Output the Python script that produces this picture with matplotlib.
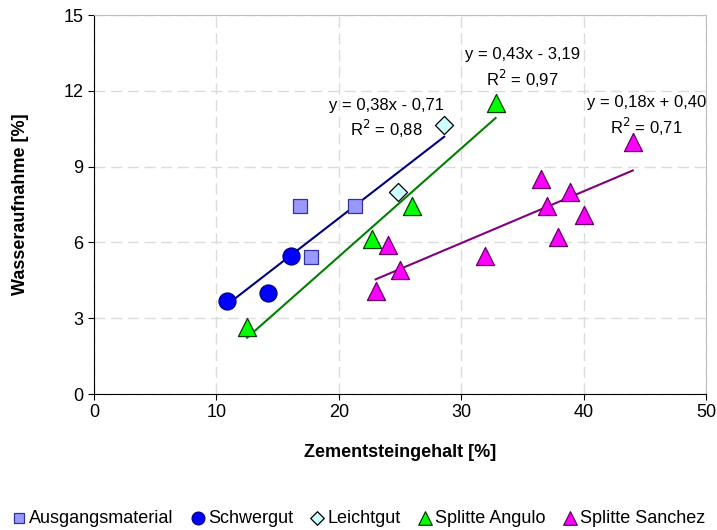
import numpy as np
import matplotlib
matplotlib.use('Agg')
import matplotlib.pyplot as plt

plt.rcParams['font.family'] = ['Liberation Sans', 'DejaVu Sans']

# Messwerte (Zementsteingehalt [%], Wasseraufnahme [%])
ausgang_x = [16.8, 21.3, 17.7]
ausgang_y = [7.45, 7.45, 5.42]
schwer_x = [10.9, 14.2, 16.1]
schwer_y = [3.68, 3.98, 5.46]
leicht_x = [24.8, 28.6]
leicht_y = [7.99, 10.64]
angulo_x = [12.5, 22.7, 26.0, 32.8]
angulo_y = [2.64, 6.15, 7.44, 11.53]
sanchez_x = [23.0, 25.0, 24.0, 31.9, 37.9, 37.0, 36.5, 38.9, 40.0, 44.0]
sanchez_y = [4.08, 4.91, 5.90, 5.47, 6.20, 7.45, 8.51, 8.01, 7.07, 9.98]

labels = ['Ausgangsmaterial', 'Schwergut', 'Leichtgut', 'Splitte Angulo', 'Splitte Sanchez']
eq_texts = ['y = 0,38x - 0,71\nR$^2$ = 0,88',
            'y = 0,43x - 3,19\nR$^2$ = 0,97',
            'y = 0,18x + 0,40\nR$^2$ = 0,71']

fig = plt.figure(figsize=(7.17, 5.30), dpi=100)
ax = fig.add_axes([0.131, 0.2566, 0.854, 0.715])

# Trendlinien
def trend(xs, ys, color):
    k, d = np.polyfit(xs, ys, 1)
    xx = np.array([min(xs), max(xs)])
    ax.plot(xx, k * xx + d, color=color, lw=1.5, zorder=2)

trend(ausgang_x + schwer_x + leicht_x, ausgang_y + schwer_y + leicht_y, '#000080')
trend(angulo_x, angulo_y, '#008000')
trend(sanchez_x, sanchez_y, '#800080')

ax.scatter(ausgang_x, ausgang_y, marker='s', s=110, c='#9999FF', edgecolors='#333399',
           linewidths=0.9, label=labels[0], zorder=3)
ax.scatter(schwer_x, schwer_y, marker='o', s=150, c='#0000FF', edgecolors='#000080',
           linewidths=0.9, label=labels[1], zorder=3)
ax.scatter(leicht_x, leicht_y, marker='D', s=85, c='#CCFFFF', edgecolors='black',
           linewidths=0.9, label=labels[2], zorder=3)
ax.scatter(angulo_x, angulo_y, marker='^', s=170, c='#00FF00', edgecolors='#004000',
           linewidths=0.9, label=labels[3], zorder=3)
ax.scatter(sanchez_x, sanchez_y, marker='^', s=170, c='#FF00FF', edgecolors='#600060',
           linewidths=0.9, label=labels[4], zorder=3)

# Gleichungen
ax.text(23.9, 10.05, eq_texts[0], ha='center', va='bottom', fontsize=12, linespacing=1.3)
ax.text(35.0, 12.05, eq_texts[1], ha='center', va='bottom', fontsize=12, linespacing=1.3)
ax.text(45.1, 10.15, eq_texts[2], ha='center', va='bottom', fontsize=12, linespacing=1.3)

ax.set_xlim(0, 50)
ax.set_ylim(0, 15)
ax.set_xticks(range(0, 51, 10))
ax.set_yticks(range(0, 16, 3))
ax.tick_params(labelsize=13, direction='out', length=4, color='black')
ax.grid(True, color='#dcdcdc', linestyle=(0, (8, 4)), lw=1)
ax.set_axisbelow(True)
for s in ['top', 'right']:
    ax.spines[s].set_color('#bdbdbd')
ax.spines['left'].set_color('black')
ax.spines['bottom'].set_color('black')

ax.set_xlabel('Zementsteingehalt [%]', fontsize=13, fontweight='bold', labelpad=16)
ax.set_ylabel('Wasseraufnahme [%]', fontsize=13, fontweight='bold', labelpad=25)

fig.legend(loc='lower center', bbox_to_anchor=(0.5, -0.018), ncol=5, frameon=False,
           fontsize=13, handletextpad=0.15, columnspacing=0.95, borderpad=0.2,
           handlelength=0.8, markerscale=0.75)

fig.savefig('out.png', dpi=100)
